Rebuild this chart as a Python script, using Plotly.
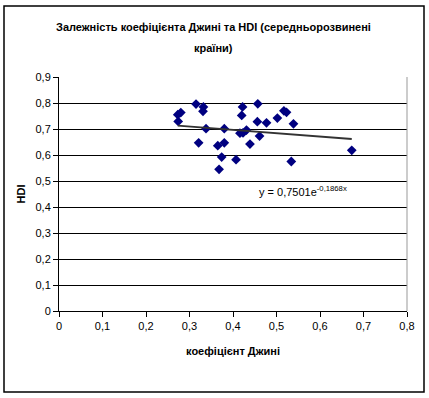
import numpy as np
import plotly.graph_objects as go

# Gini coefficient (x) and HDI (y) for middle-developed countries
gini = [0.273, 0.280, 0.274, 0.315, 0.332, 0.331, 0.338, 0.321, 0.365, 0.380,
        0.374, 0.368, 0.380, 0.407, 0.422, 0.420, 0.416, 0.423, 0.431, 0.439,
        0.457, 0.456, 0.461, 0.477, 0.502, 0.517, 0.523, 0.539, 0.534, 0.673]
hdi = [0.755, 0.763, 0.729, 0.796, 0.785, 0.768, 0.701, 0.647, 0.636, 0.647,
       0.592, 0.545, 0.701, 0.582, 0.785, 0.752, 0.684, 0.685, 0.696, 0.642,
       0.797, 0.728, 0.673, 0.724, 0.742, 0.770, 0.764, 0.720, 0.575, 0.618]

# Exponential trendline coefficients shown on the chart
trend_a = 0.7501
trend_b = -0.1868
x_ticks = [0, 0.1, 0.2, 0.3, 0.4, 0.5, 0.6, 0.7, 0.8]
y_ticks = [0, 0.1, 0.2, 0.3, 0.4, 0.5, 0.6, 0.7, 0.8, 0.9]

title_lines = ["Залежність коефіцієнта Джині та HDI (середньорозвинені", "країни)"]
x_title = "коефіцієнт Джині"
y_title = "HDI"
equation = "y = 0,7501e<sup>-0,1868x</sup>"

FONT = "Liberation Sans, Arial, sans-serif"

# plot-area size in px, used to place decorations in paper coordinates
PW, PH = 348, 234

tx = np.linspace(min(gini), max(gini), 60)
ty = trend_a * np.exp(trend_b * tx)

fig = go.Figure()
fig.add_trace(go.Scatter(x=gini, y=hdi, mode="markers",
                         marker=dict(symbol="diamond", size=7.5, color="#000080",
                                     line=dict(width=0)),
                         showlegend=False, hoverinfo="x+y"))
fig.add_trace(go.Scatter(x=tx, y=ty, mode="lines",
                         line=dict(color="#333333", width=1.8),
                         showlegend=False, hoverinfo="skip"))

fig.update_layout(
    width=429, height=398,
    margin=dict(l=59, r=22, t=77, b=87, autoexpand=False),
    paper_bgcolor="white", plot_bgcolor="white",
    separators=", ",
    font=dict(family=FONT, size=11, color="black"),
    xaxis=dict(range=[0, 0.8], tickvals=x_ticks, showgrid=False,
               showline=True, linecolor="black", linewidth=1,
               ticks="outside", ticklen=5, tickcolor="black",
               zeroline=False, tickfont=dict(size=11),
               title=dict(text="<b>" + x_title + "</b>", font=dict(size=11), standoff=16)),
    yaxis=dict(range=[0, 0.9], tickvals=y_ticks, showgrid=True,
               gridcolor="black", gridwidth=1,
               showline=True, linecolor="black", linewidth=1,
               ticks="outside", ticklen=5, tickcolor="black",
               zeroline=False, tickfont=dict(size=11),
               title=dict(text="<b>" + y_title + "</b>", font=dict(size=11), standoff=7)),
    annotations=[
        dict(text="<b>" + title_lines[0] + "</b>", xref="paper", yref="paper",
             x=0.445, y=1 + (77 - 27) / PH, xanchor="center", yanchor="middle",
             showarrow=False, font=dict(size=11)),
        dict(text="<b>" + title_lines[1] + "</b>", xref="paper", yref="paper",
             x=0.445, y=1 + (77 - 48) / PH, xanchor="center", yanchor="middle",
             showarrow=False, font=dict(size=11)),
        dict(text=equation, x=0.56, y=0.462, xref="x", yref="y",
             showarrow=False, font=dict(size=11)),
    ],
    shapes=[
        dict(type="line", xref="paper", yref="paper", x0=1, x1=1, y0=0, y1=1,
             line=dict(color="#999999", width=1)),
        dict(type="rect", xref="paper", yref="paper",
             x0=-55 / PW, x1=1 + 17 / PW, y0=-81 / PH, y1=1 + 71 / PH,
             line=dict(color="black", width=1.5)),
    ],
)

fig.write_html("out.html", config={"displayModeBar": False},
               post_script="document.body.style.margin='0';")
